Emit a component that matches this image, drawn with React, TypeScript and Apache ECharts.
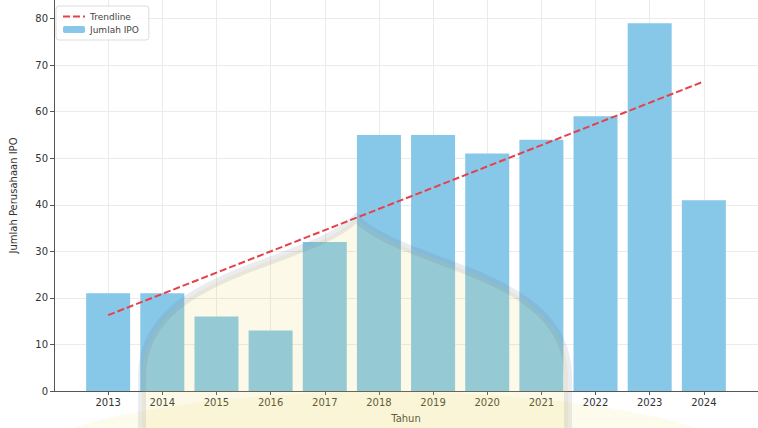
import React, { useEffect, useRef } from "react";
import * as echarts from "echarts";

const years = ["2013", "2014", "2015", "2016", "2017", "2018", "2019", "2020", "2021", "2022", "2023", "2024"];
const ipoCounts = [21, 21, 16, 13, 32, 55, 55, 51, 54, 59, 79, 41];
const trendYears = ["2013", "2024"];
const trendValues = [16.3, 66.5];
const yTicks = [0, 10, 20, 30, 40, 50, 60, 70, 80];

const domePath =
  "M356 218 C 335 240, 290 252, 240 272 C 180 296, 143 325, 142 375 L 142 440 L 568 440 L 568 375 C 567 325, 530 296, 470 272 C 420 252, 377 240, 356 218 Z";
echarts.graphic.registerShape("dome", echarts.graphic.extendPath(domePath, {}) as any);

export default function App() {
  const ref = useRef<HTMLDivElement>(null);
  useEffect(() => {
    if (!ref.current) return;
    const chart = echarts.init(ref.current, undefined, { renderer: "svg" });
    const font = "DejaVu Sans";
    const barData = years.map((y, i) => [i, ipoCounts[i]]);
    const trendData = trendYears.map((y, i) => [years.indexOf(y), trendValues[i]]);
    const xTickValues = years.map((_, i) => i);
    chart.setOption({
      animation: false,
      backgroundColor: "#ffffff",
      grid: { left: 53, top: -2, width: 712, height: 395, containLabel: false },
      graphic: [
        {
          type: "ellipse",
          silent: true,
          z: 100,
          shape: { cx: 385, cy: 470, rx: 370, ry: 78 },
          style: { fill: "rgba(240,220,100,0.12)" },
        },
        {
          type: "dome",
          silent: true,
          z: 101,
          x: 0,
          y: 0,
          style: { fill: "rgba(235,215,90,0.14)", stroke: "rgba(100,110,135,0.13)", lineWidth: 8 },
        },
      ],
      legend: {
        data: ["Trendline", { name: "Jumlah IPO" }],
        orient: "vertical",
        left: 56,
        top: 6,
        itemWidth: 22,
        itemHeight: 7,
        itemGap: 4,
        padding: [6, 10, 6, 6],
        borderColor: "#dddddd",
        borderWidth: 1,
        borderRadius: 3,
        backgroundColor: "rgba(255,255,255,0.8)",
        textStyle: { fontFamily: font, fontSize: 9, color: "#444" },
      },
      xAxis: {
        type: "value",
        min: -1,
        max: 12,
        interval: 1,
        name: "Tahun",
        nameLocation: "middle",
        nameGap: 22,
        nameTextStyle: { fontFamily: font, fontSize: 10, color: "#333" },
        axisLine: { show: true, onZero: false, lineStyle: { color: "#555", width: 1 } },
        axisTick: { show: true, length: 4, customValues: xTickValues, lineStyle: { color: "#555" } },
        axisLabel: {
          customValues: xTickValues,
          fontFamily: font,
          fontSize: 10,
          color: "#333",
          margin: 6,
          formatter: (v: number) => years[v] ?? "",
        },
        splitLine: { show: true, lineStyle: { color: "#ebebeb", width: 1 } },
      },
      yAxis: {
        type: "value",
        min: 0,
        max: 84,
        interval: 10,
        name: "Jumlah Perusahaan IPO",
        nameLocation: "middle",
        nameGap: 36,
        nameTextStyle: { fontFamily: font, fontSize: 10, color: "#333" },
        axisLine: { show: true, onZero: false, lineStyle: { color: "#555", width: 1 } },
        axisTick: { show: true, length: 4, customValues: yTicks, lineStyle: { color: "#555" } },
        axisLabel: {
          customValues: yTicks,
          fontFamily: font,
          fontSize: 10,
          color: "#333",
          margin: 6,
          formatter: (v: number) => (yTicks.includes(v) ? String(v) : ""),
        },
        splitLine: { show: true, lineStyle: { color: "#ebebeb", width: 1 } },
      },
      series: [
        {
          name: "Jumlah IPO",
          type: "bar",
          data: barData,
          barWidth: 44,
          itemStyle: { color: "#87C7E8" },
          z: 2,
        },
        {
          name: "Trendline",
          type: "line",
          data: trendData,
          symbol: "none",
          showSymbol: false,
          lineStyle: { color: "#E8404A", width: 2, type: [7, 3] },
          itemStyle: { color: "rgba(0,0,0,0)" },
          z: 3,
        },
      ],
    });
    return () => chart.dispose();
  }, []);
  return <div ref={ref} style={{ width: 758, height: 428, position: "absolute", left: 0, top: 0 }} />;
}
